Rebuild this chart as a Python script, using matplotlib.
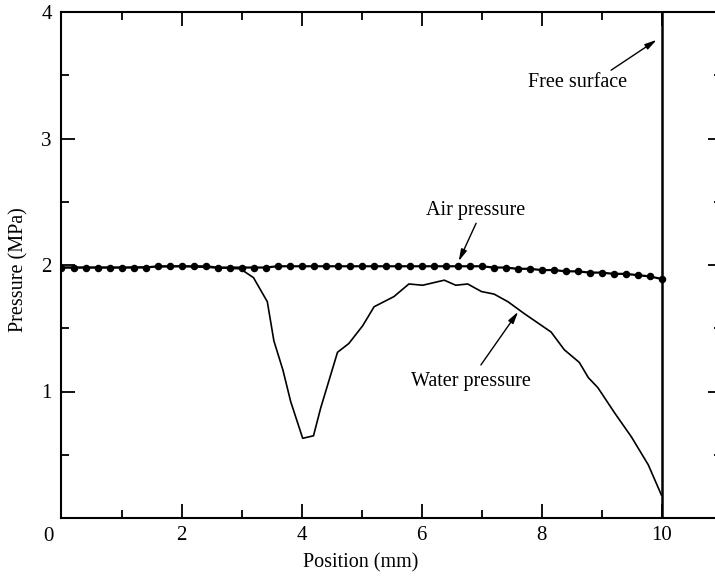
"""Pressure profiles along the flow channel up to the free surface."""

import matplotlib.pyplot as plt
import numpy as np
from matplotlib.ticker import MultipleLocator
from matplotlib.transforms import ScaledTranslation

plt.rcParams["font.family"] = ["Liberation Serif", "DejaVu Serif"]

# Air pressure sampled every 0.2 mm
air_position = np.linspace(0.0, 10.0, 51)
air_pressure = [
    1.98, 1.98, 1.98, 1.98, 1.98, 1.98, 1.98, 1.98, 1.99, 1.99,
    1.99, 1.99, 1.99, 1.98, 1.98, 1.98, 1.98, 1.98, 1.99, 1.99,
    1.99, 1.99, 1.99, 1.99, 1.99, 1.99, 1.99, 1.99, 1.99, 1.99,
    1.99, 1.99, 1.99, 1.99, 1.99, 1.99, 1.98, 1.98, 1.97, 1.97,
    1.96, 1.96, 1.95, 1.95, 1.94, 1.94, 1.93, 1.93, 1.92, 1.91,
    1.89,
]

# Water pressure
water_position = [
    0.0, 1.0, 2.0, 2.98, 3.2, 3.43, 3.54, 3.69, 3.82, 4.02, 4.2, 4.32,
    4.6, 4.79, 5.02, 5.21, 5.54, 5.79, 6.02, 6.38, 6.57, 6.77, 7.0,
    7.21, 7.44, 7.7, 8.16, 8.38, 8.63, 8.78, 8.94, 9.22, 9.5, 9.78,
    10.0,
]
water_pressure = [
    1.98, 1.98, 1.99, 1.97, 1.90, 1.71, 1.40, 1.17, 0.92, 0.63, 0.65,
    0.87, 1.31, 1.38, 1.52, 1.67, 1.75, 1.85, 1.84, 1.88, 1.84, 1.85,
    1.79, 1.77, 1.71, 1.62, 1.47, 1.33, 1.23, 1.11, 1.03, 0.83, 0.64,
    0.42, 0.18,
]

free_surface = 10.0

W, H = 715, 577
fig = plt.figure(figsize=(W / 100, H / 100), dpi=100)
ax = fig.add_axes([61.5 / W, 59 / H, 660 / W, 506 / H])

ax.plot(air_position, air_pressure, color="black", lw=1.6,
        marker="o", markersize=4.4, zorder=3)
ax.plot(water_position, water_pressure, color="black", lw=1.2, zorder=2)
ax.axvline(free_surface, color="black", lw=1.8)

ax.set_xlim(0, 11)
ax.set_ylim(0, 4)

for side in ax.spines.values():
    side.set_linewidth(1.5)

ax.xaxis.set_major_locator(MultipleLocator(2))
ax.xaxis.set_minor_locator(MultipleLocator(1))
ax.yaxis.set_major_locator(MultipleLocator(1))
ax.yaxis.set_minor_locator(MultipleLocator(0.5))
ax.tick_params(which="both", direction="in", top=True, right=True,
               width=1.3, labelsize=15)
ax.tick_params(which="major", length=10)
ax.tick_params(which="minor", length=5.5)
ax.tick_params(axis="x", pad=6)
ax.tick_params(axis="y", pad=7)

ax.set_xticks([2, 4, 6, 8, 10])
ax.set_yticks([1, 2, 3, 4])
shift = ScaledTranslation(-9.7 / 72, -13 / 72, fig.dpi_scale_trans)
ax.text(0, 0, "0", transform=ax.transData + shift,
        ha="center", va="center", fontsize=15)

fig.text(361 / W, 1 - 563 / H, "Position (mm)",
         ha="center", va="center", fontsize=14.5)
fig.text(19 / W, 1 - 270 / H, "Pressure (MPa)", rotation=90,
         ha="center", va="center", fontsize=14.5)

arrow = dict(arrowstyle="-|>,head_length=0.7,head_width=0.18",
             color="black", lw=1.0, shrinkA=0, shrinkB=0)
ax.annotate("", xy=(9.92, 3.78), xytext=(9.16, 3.54), arrowprops=arrow)
ax.text(8.6, 3.44, "Free surface", ha="center", va="center", fontsize=14.5)

ax.annotate("", xy=(6.62, 2.03), xytext=(6.91, 2.33), arrowprops=arrow)
ax.text(6.91, 2.43, "Air pressure", ha="center", va="center", fontsize=14.5)

ax.annotate("", xy=(7.61, 1.63), xytext=(6.99, 1.21), arrowprops=arrow)
ax.text(6.82, 1.08, "Water pressure", ha="center", va="center", fontsize=14.5)

fig.savefig("out.png", dpi=100)
